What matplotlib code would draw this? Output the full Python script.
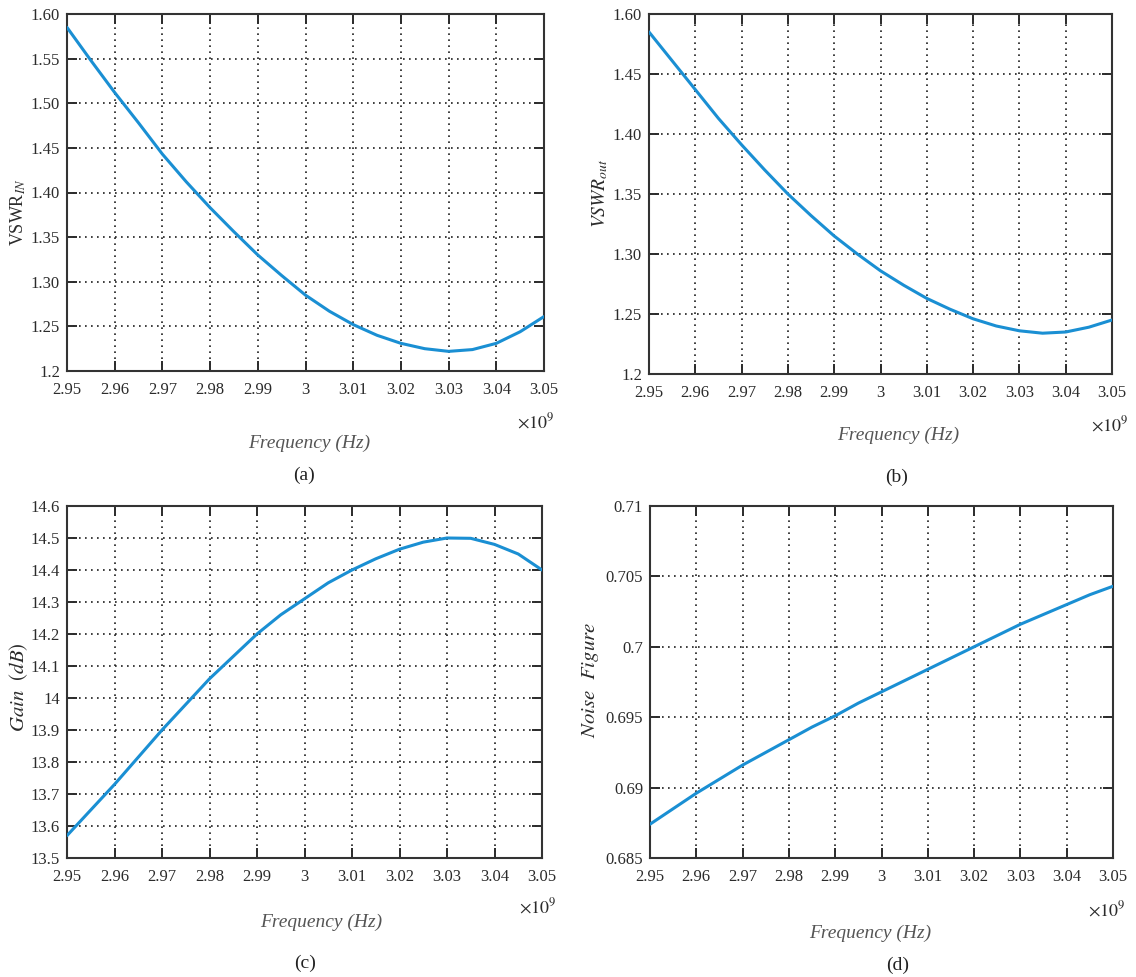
import matplotlib
matplotlib.use("Agg")
import matplotlib.pyplot as plt

# ----------------------------------------
# Data (frequency in GHz, plotted against a x10^9 Hz axis)
# ----------------------------------------
freq_ghz = [2.950, 2.955, 2.960, 2.965, 2.970, 2.975, 2.980, 2.985, 2.990, 2.995, 3.000,
            3.005, 3.010, 3.015, 3.020, 3.025, 3.030, 3.035, 3.040, 3.045, 3.050]

vswr_in = [1.585, 1.548, 1.512, 1.478, 1.443, 1.412, 1.383, 1.356, 1.330, 1.307, 1.285,
           1.267, 1.252, 1.240, 1.231, 1.225, 1.222, 1.224, 1.231, 1.244, 1.261]

vswr_out = [1.485, 1.461, 1.437, 1.413, 1.391, 1.370, 1.350, 1.332, 1.315, 1.300, 1.286,
            1.274, 1.263, 1.254, 1.246, 1.240, 1.236, 1.234, 1.235, 1.239, 1.245]

gain_db = [13.57, 13.65, 13.73, 13.815, 13.90, 13.98, 14.06, 14.13, 14.20, 14.26, 14.31,
           14.36, 14.40, 14.435, 14.465, 14.487, 14.50, 14.499, 14.48, 14.45, 14.40]

noise_fig = [0.6874, 0.6885, 0.6896, 0.6906, 0.6916, 0.6925, 0.6934, 0.6943, 0.6951, 0.6960, 0.6968,
             0.6976, 0.6984, 0.6992, 0.7000, 0.7008, 0.7016, 0.7023, 0.7030, 0.7037, 0.7043]

# tick positions and printed labels
x_ticks = [2.95, 2.96, 2.97, 2.98, 2.99, 3.00, 3.01, 3.02, 3.03, 3.04, 3.05]
x_tick_labels = ["2.95", "2.96", "2.97", "2.98", "2.99", "3", "3.01", "3.02", "3.03", "3.04", "3.05"]

vswr_in_ticks = [1.20, 1.25, 1.30, 1.35, 1.40, 1.45, 1.50, 1.55, 1.60]
vswr_in_labels = ["1.2", "1.25", "1.30", "1.35", "1.40", "1.45", "1.50", "1.55", "1.60"]

vswr_out_ticks = [1.20, 1.25, 1.30, 1.35, 1.40, 1.45, 1.50]
vswr_out_labels = ["1.2", "1.25", "1.30", "1.35", "1.40", "1.45", "1.60"]

gain_ticks = [13.5, 13.6, 13.7, 13.8, 13.9, 14.0, 14.1, 14.2, 14.3, 14.4, 14.5, 14.6]
gain_labels = ["13.5", "13.6", "13.7", "13.8", "13.9", "14", "14.1", "14.2", "14.3", "14.4", "14.5", "14.6"]

nf_ticks = [0.685, 0.690, 0.695, 0.700, 0.705, 0.710]
nf_labels = ["0.685", "0.69", "0.695", "0.7", "0.705", "0.71"]

# ----------------------------------------
# Figure setup
# ----------------------------------------
W, H = 1136, 977
plt.rcParams["font.family"] = ["Liberation Serif", "DejaVu Serif"]
plt.rcParams["mathtext.fontset"] = "stix"

fig = plt.figure(figsize=(W / 100, H / 100), dpi=100)

LINE_COLOR = "#1a8fd3"
TEXT_GRAY = "#2b2b2b"


def px(x, y):
    return x / W, 1 - y / H


def make_axes(left, top, right, bottom):
    x0, y1 = px(left, top)
    x1, y0 = px(right, bottom)
    return fig.add_axes([x0, y0, x1 - x0, y1 - y0])


def style_axes(ax, y, yticks, ylabels, ylim):
    ax.plot(freq_ghz, y, color=LINE_COLOR, linewidth=2.2,
            solid_joinstyle="round", solid_capstyle="round", zorder=3)
    ax.set_xlim(2.95, 3.05)
    ax.set_ylim(*ylim)
    ax.set_xticks(x_ticks)
    ax.set_xticklabels(x_tick_labels)
    ax.set_yticks(yticks)
    ax.set_yticklabels(ylabels)
    ax.grid(True, color="#1e1e1e", linestyle=(0, (1, 2.6)), linewidth=1.2)
    ax.tick_params(direction="in", length=7, width=1.4, top=True, right=True,
                   labelsize=12, colors=TEXT_GRAY)
    ax.tick_params(axis="x", pad=8)
    ax.tick_params(axis="y", pad=5)
    for spine in ax.spines.values():
        spine.set_linewidth(1.5)
        spine.set_color("#333333")


# ----------------------------------------
# (a) Input VSWR
# ----------------------------------------
ax_a = make_axes(67, 14, 544, 371)
style_axes(ax_a, vswr_in, vswr_in_ticks, vswr_in_labels, (1.2, 1.6))
fig.text(*px(18, 212), r"VSWR$_{IN}$", rotation=90, ha="center", va="center",
         fontsize=13, color=TEXT_GRAY)
fig.text(*px(536, 422), r"$\times10^9$", ha="center", va="center", fontsize=13, color=TEXT_GRAY)
fig.text(*px(309, 443), "Frequency (Hz)", style="italic", ha="center", va="center",
         fontsize=14, color="#555555")
fig.text(*px(304, 475), "(a)", ha="center", va="center", fontsize=14, color="#222222")

# ----------------------------------------
# (b) Output VSWR
# ----------------------------------------
ax_b = make_axes(649, 14, 1112, 374)
style_axes(ax_b, vswr_out, vswr_out_ticks, vswr_out_labels, (1.2, 1.5))
fig.text(*px(600, 193), r"$VSWR_{out}$", rotation=90, ha="center", va="center",
         fontsize=14, color=TEXT_GRAY)
fig.text(*px(1110, 425), r"$\times10^9$", ha="center", va="center", fontsize=13, color=TEXT_GRAY)
fig.text(*px(898, 435), "Frequency (Hz)", style="italic", ha="center", va="center",
         fontsize=14, color="#555555")
fig.text(*px(897, 477), "(b)", ha="center", va="center", fontsize=14, color="#222222")

# ----------------------------------------
# (c) Gain
# ----------------------------------------
ax_c = make_axes(67, 506, 542, 858)
style_axes(ax_c, gain_db, gain_ticks, gain_labels, (13.5, 14.6))
fig.text(*px(19, 687), r"$Gain\ \ (dB)$", rotation=90, ha="center", va="center",
         fontsize=15, color=TEXT_GRAY)
fig.text(*px(538, 907), r"$\times10^9$", ha="center", va="center", fontsize=13, color=TEXT_GRAY)
fig.text(*px(321, 922), "Frequency (Hz)", style="italic", ha="center", va="center",
         fontsize=14, color="#555555")
fig.text(*px(305, 963), "(c)", ha="center", va="center", fontsize=14, color="#222222")

# ----------------------------------------
# (d) Noise figure
# ----------------------------------------
ax_d = make_axes(650, 506, 1113, 858)
style_axes(ax_d, noise_fig, nf_ticks, nf_labels, (0.685, 0.71))
fig.text(*px(591, 680), r"$Noise\ \ Figure$", rotation=90, ha="center", va="center",
         fontsize=15, color=TEXT_GRAY)
fig.text(*px(1107, 910), r"$\times10^9$", ha="center", va="center", fontsize=13, color=TEXT_GRAY)
fig.text(*px(870, 933), "Frequency (Hz)", style="italic", ha="center", va="center",
         fontsize=14, color="#555555")
fig.text(*px(898, 965), "(d)", ha="center", va="center", fontsize=14, color="#222222")

fig.savefig("out.png", dpi=100)
